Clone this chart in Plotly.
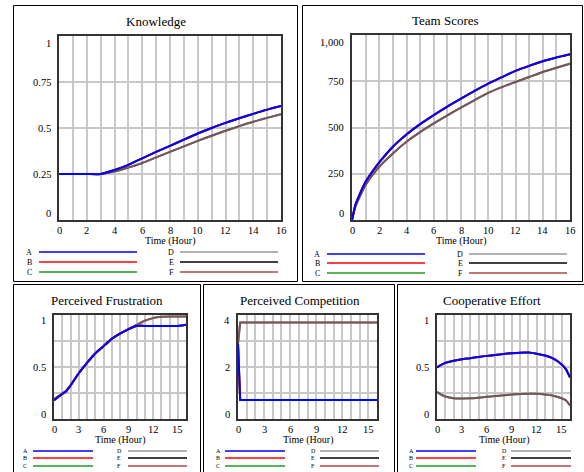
import plotly.graph_objects as go

W, H = 584, 472
FONT = "Liberation Serif"

# ---------------- data ----------------
series_names = ["A", "B", "C", "D", "E", "F"]
series_colors = ["#0000ff", "#ff0000", "#1f9a1f", "#999999", "#000000", "#a84848"]

t_know = [0, 1, 2, 3, 4, 5, 6, 7, 8, 9, 10, 11, 12, 13, 14, 15, 16]
knowledge_abc = [0.25, 0.25, 0.25, 0.25, 0.272, 0.30, 0.335, 0.37, 0.403, 0.437,
                 0.47, 0.50, 0.528, 0.553, 0.577, 0.60, 0.62]
knowledge_def = [0.25, 0.25, 0.25, 0.25, 0.263, 0.285, 0.31, 0.34, 0.37, 0.40,
                 0.43, 0.458, 0.485, 0.51, 0.534, 0.555, 0.575]

t_score = [0, 0.25, 0.5, 1, 1.5, 2, 3, 4, 5, 6, 7, 8, 9, 10, 11, 12, 13, 14, 15, 16]
scores_abc = [0, 82, 128, 207, 262, 311, 396, 462, 518, 567, 613, 656, 698, 737,
              772, 806, 833, 858, 878, 896]
scores_def = [0, 72, 115, 189, 243, 288, 360, 423, 475, 522, 566, 608, 648, 687,
              718, 746, 773, 800, 823, 845]

t_frus = [0, 1, 1.5, 2, 3, 4, 5, 6, 7, 8, 9, 10, 11, 12, 13, 14, 15, 15.5, 16]
frus_abc = [0.18, 0.24, 0.27, 0.32, 0.44, 0.54, 0.63, 0.70, 0.77, 0.82, 0.862,
            0.895, 0.895, 0.895, 0.895, 0.895, 0.895, 0.90, 0.907]
frus_def = [0.19, 0.245, 0.275, 0.325, 0.44, 0.54, 0.63, 0.70, 0.77, 0.82, 0.865,
            0.905, 0.945, 0.97, 0.982, 0.985, 0.986, 0.986, 0.986]

t_comp = [0, 0.25, 16]
comp_abc = [2.9, 0.73, 0.73]
comp_def = [2.9, 3.71, 3.71]

t_coop = [0, 0.5, 1, 2, 3, 4, 5, 6, 7, 8, 9, 10, 11, 12, 13, 14, 15, 15.5, 16]
coop_abc = [0.495, 0.52, 0.54, 0.56, 0.575, 0.585, 0.597, 0.607, 0.616, 0.625,
            0.633, 0.638, 0.639, 0.628, 0.61, 0.58, 0.525, 0.48, 0.40]
coop_def = [0.26, 0.235, 0.217, 0.20, 0.198, 0.199, 0.205, 0.213, 0.22, 0.228,
            0.235, 0.24, 0.242, 0.242, 0.236, 0.224, 0.2, 0.18, 0.13]

x_ticks_wide = [0, 2, 4, 6, 8, 10, 12, 14, 16]
x_ticks_narrow = [0, 3, 6, 9, 12, 15]

know_ticks = [0, 0.25, 0.5, 0.75, 1]
know_labels = ["0", "0.25", "0.5", "0.75", "1"]
score_ticks = [0, 250, 500, 750, 1000]
score_labels = ["0", "250", "500", "750", "1,000"]
unit_ticks = [0, 0.5, 1]
unit_labels = ["0", "0.5", "1"]
comp_ticks = [0, 2, 4]
comp_labels = ["0", "2", "4"]

TICK_SIZE = 10.5

# ---------------- panel layout (pixels) ----------------
panels = [
    dict(title="Knowledge", t=t_know, abc=knowledge_abc, def_=knowledge_def,
         box=(13, 5, 297, 281), plot=(59, 36, 281, 220), title_xy=(156, 22),
         yr=(0, 1), ygrid=0.25, yt=know_ticks, yl=know_labels, xt=x_ticks_wide,
         axis_title_y=241, legend_rows=(252, 262, 272),
         leg_a=(29, 39, 137), leg_d=(171, 180, 278), leg_font=8, yshift=7,
         shape="spline"),
    dict(title="Team Scores", t=t_score, abc=scores_abc, def_=scores_def,
         box=(302, 5, 582, 281), plot=(352, 35, 570, 220), title_xy=(445, 21),
         yr=(0, 1000), ygrid=250, yt=score_ticks, yl=score_labels, xt=x_ticks_wide,
         axis_title_y=241, legend_rows=(254, 263, 273),
         leg_a=(317, 327, 425), leg_d=(460, 469, 567), leg_font=8, yshift=7,
         shape="spline"),
    dict(title="Perceived Frustration", t=t_frus, abc=frus_abc, def_=frus_def,
         box=(13, 284, 200, 480), plot=(54, 315, 186, 419), title_xy=(107, 300),
         yr=(0, 1), ygrid=0.25, yt=unit_ticks, yl=unit_labels, xt=x_ticks_narrow,
         axis_title_y=440, legend_rows=(451, 458, 466),
         leg_a=(25, 33, 93), leg_d=(119, 128, 187), leg_font=6, yshift=5,
         shape="spline"),
    dict(title="Perceived Competition", t=t_comp, abc=comp_abc, def_=comp_def,
         box=(203, 284, 394, 480), plot=(238, 315, 377, 419), title_xy=(300, 300),
         yr=(0, 4), ygrid=1, yt=comp_ticks, yl=comp_labels, xt=x_ticks_narrow,
         axis_title_y=440, legend_rows=(451, 458, 466),
         leg_a=(218, 225, 285), leg_d=(313, 320, 379), leg_font=6, yshift=5,
         shape="linear"),
    dict(title="Cooperative Effort", t=t_coop, abc=coop_abc, def_=coop_def,
         box=(397, 284, 590, 480), plot=(437, 315, 570, 419), title_xy=(492, 300),
         yr=(0, 1), ygrid=0.25, yt=unit_ticks, yl=unit_labels, xt=x_ticks_narrow,
         axis_title_y=440, legend_rows=(451, 458, 466),
         leg_a=(411, 416, 476), leg_d=(504, 511, 571), leg_font=6, yshift=5,
         shape="spline"),
]


def px(x):
    return x / W


def py(y):
    return 1 - y / H


fig = go.Figure()
shapes = []
annotations = []

for i, p in enumerate(panels):
    n = "" if i == 0 else str(i + 1)
    xa, ya = "x" + n, "y" + n
    x0, y0, x1, y1 = p["plot"]

    # lower group (D, E, F) first, upper group (A, B, C) drawn on top
    draw = [
        ("F", p["def_"], 1.0), ("D", p["def_"], 0.7), ("E", p["def_"], 0.3),
        ("C", p["abc"], 1.0), ("B", p["abc"], 1.0), ("A", p["abc"], 1.0),
    ]
    for name, vals, op in draw:
        col = series_colors[series_names.index(name)]
        fig.add_trace(go.Scatter(
            x=p["t"], y=vals, mode="lines", name=name, showlegend=False,
            opacity=op, xaxis=xa, yaxis=ya,
            line=dict(color=col, width=2, shape=p["shape"], smoothing=0.6),
            hoverinfo="skip"))

    common = dict(showline=True, mirror=True, linecolor="#333333", linewidth=2,
                  gridcolor="#c8c8c8", gridwidth=1.5, zeroline=False,
                  ticks="", fixedrange=True, showticklabels=False)
    fig.layout["xaxis" + n] = dict(
        domain=[px(x0), px(x1)], range=[0, 16], anchor=ya, tick0=0, dtick=1,
        **common)
    fig.layout["yaxis" + n] = dict(
        domain=[py(y1), py(y0)], range=list(p["yr"]), anchor=xa, tick0=0,
        dtick=p["ygrid"], **common)

    # x tick labels just under the frame
    for v in p["xt"]:
        annotations.append(dict(
            x=v, xref=xa, y=0, yref=ya + " domain", text=str(v), showarrow=False,
            xanchor="center", yanchor="top", yshift=-3,
            font=dict(family=FONT, size=TICK_SIZE, color="black")))

    # y tick labels, end labels pulled inside the frame
    for k, (v, lab) in enumerate(zip(p["yt"], p["yl"])):
        sh = 0
        if k == 0:
            sh = p["yshift"]
        elif k == len(p["yt"]) - 1:
            sh = -p["yshift"]
        annotations.append(dict(
            x=0, xref=xa + " domain", y=v, yref=ya, text=lab, showarrow=False,
            xanchor="right", yanchor="middle", xshift=-6, yshift=sh,
            font=dict(family=FONT, size=TICK_SIZE, color="black")))

    # panel frame
    bx0, by0, bx1, by1 = p["box"]
    shapes.append(dict(type="rect", xref="paper", yref="paper",
                       x0=px(bx0 + 0.5), x1=px(bx1 + 0.5), y0=py(by1 + 0.5), y1=py(by0 + 0.5),
                       line=dict(color="black", width=1)))

    # title
    annotations.append(dict(
        x=px(p["title_xy"][0]), y=py(p["title_xy"][1]), xref="paper", yref="paper",
        text=p["title"], showarrow=False, xanchor="center", yanchor="middle",
        font=dict(family=FONT, size=13, color="black")))

    # x axis title
    annotations.append(dict(
        x=px((x0 + x1) / 2), y=py(p["axis_title_y"]), xref="paper", yref="paper",
        text="Time (Hour)", showarrow=False, xanchor="center", yanchor="middle",
        font=dict(family=FONT, size=10, color="black")))

    # legend block: A-C on the left column, D-F on the right
    for col_idx, (lab_x, lx0, lx1) in enumerate([p["leg_a"], p["leg_d"]]):
        for r, ry in enumerate(p["legend_rows"]):
            name = series_names[col_idx * 3 + r]
            colr = series_colors[col_idx * 3 + r]
            annotations.append(dict(
                x=px(lab_x), y=py(ry), xref="paper", yref="paper", text=name,
                showarrow=False, xanchor="center", yanchor="middle",
                font=dict(family=FONT, size=p["leg_font"], color="black")))
            shapes.append(dict(type="line", xref="paper", yref="paper",
                               x0=px(lx0), x1=px(lx1), y0=py(ry), y1=py(ry),
                               line=dict(color=colr, width=1.6)))

fig.update_layout(
    width=W, height=H, margin=dict(l=0, r=0, t=0, b=0),
    paper_bgcolor="white", plot_bgcolor="white",
    shapes=shapes, annotations=annotations, showlegend=False,
    font=dict(family=FONT, color="black"),
)

fig.write_html("out.html")
